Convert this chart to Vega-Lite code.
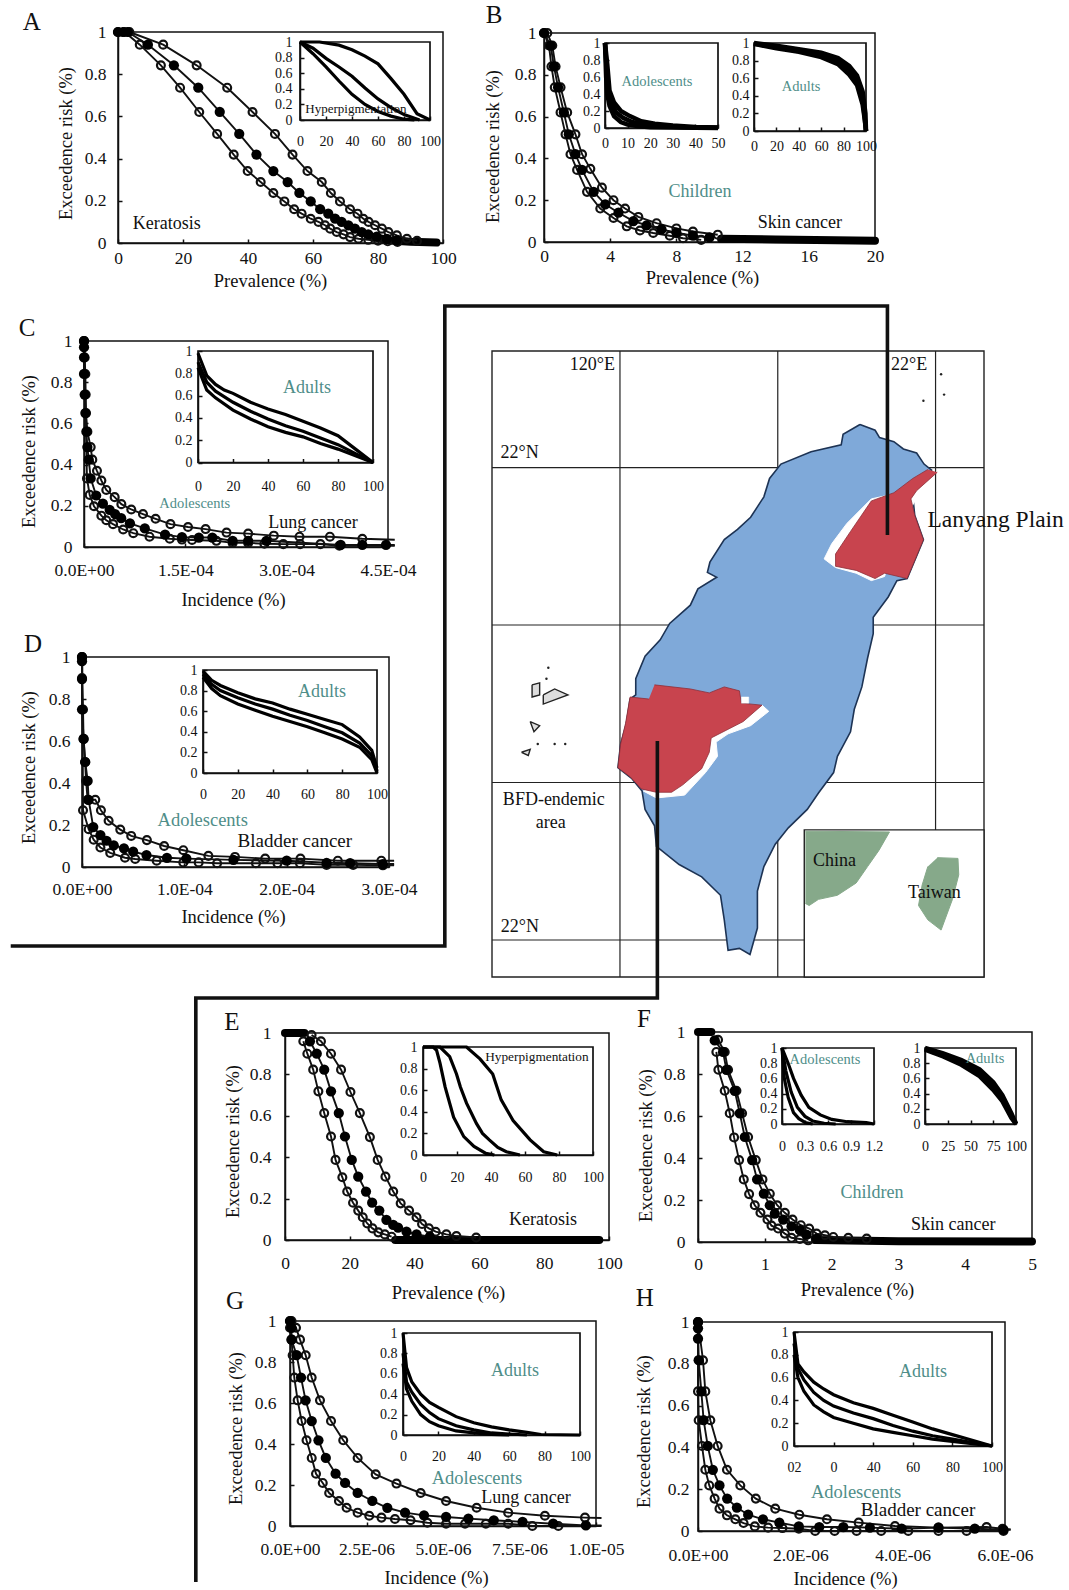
{"$schema":"https://vega.github.io/schema/vega-lite/v6.json","width":1069,"height":1590,"padding":0,"autosize":{"type":"none"},"background":"white",
"config":{"view":{"stroke":null},"axis":{"grid":false,"labelFlush":false,"labelFont":"Liberation Serif","titleFont":"Liberation Serif","labelFontSize":17.5,"titleFontSize":18.5,"titleFontWeight":"normal","titleBaseline":"middle","labelColor":"#111","titleColor":"#111","tickSize":-4,"tickColor":"#111","domainColor":"#111","domainWidth":1.5,"tickWidth":1.5,"labelOverlap":false,"labelPadding":10},"text":{"font":"Liberation Serif","fontSize":18,"baseline":"middle","align":"center","color":"#111"}},
"datasets":{
"A":[{"x":0,"y":1,"s":"l"},{"x":2,"y":1,"s":"l"},{"x":6.7,"y":0.94,"s":"l"},{"x":13.2,"y":0.842,"s":"l"},{"x":19.1,"y":0.736,"s":"l"},{"x":25,"y":0.621,"s":"l"},{"x":30.5,"y":0.517,"s":"l"},{"x":35.6,"y":0.419,"s":"l"},{"x":39.9,"y":0.341,"s":"l"},{"x":43.9,"y":0.289,"s":"l"},{"x":47.8,"y":0.237,"s":"l"},{"x":51.2,"y":0.197,"s":"l"},{"x":54.2,"y":0.16,"s":"l"},{"x":56.5,"y":0.139,"s":"l"},{"x":59.3,"y":0.115,"s":"l"},{"x":61.7,"y":0.1,"s":"l"},{"x":63.7,"y":0.084,"s":"l"},{"x":65.3,"y":0.068,"s":"l"},{"x":67.3,"y":0.052,"s":"l"},{"x":69.4,"y":0.041,"s":"l"},{"x":71.4,"y":0.028,"s":"l"},{"x":74,"y":0.02,"s":"l"},{"x":77,"y":0.015,"s":"l"},{"x":80,"y":0.011,"s":"l"},{"x":83,"y":0.008,"s":"l"},{"x":86,"y":0.005,"s":"l"},
{"x":0,"y":1,"s":"m"},{"x":1.5,"y":1,"s":"m"},{"x":3,"y":1,"s":"m"},{"x":9.2,"y":0.94,"s":"m"},{"x":17.2,"y":0.842,"s":"m"},{"x":24.7,"y":0.736,"s":"m"},{"x":31.3,"y":0.621,"s":"m"},{"x":37.3,"y":0.517,"s":"m"},{"x":42.6,"y":0.419,"s":"m"},{"x":47.8,"y":0.341,"s":"m"},{"x":52.2,"y":0.289,"s":"m"},{"x":55.8,"y":0.237,"s":"m"},{"x":59.3,"y":0.197,"s":"m"},{"x":62.2,"y":0.16,"s":"m"},{"x":64.7,"y":0.139,"s":"m"},{"x":66.8,"y":0.115,"s":"m"},{"x":68.8,"y":0.1,"s":"m"},{"x":70.9,"y":0.084,"s":"m"},{"x":72.9,"y":0.068,"s":"m"},{"x":75,"y":0.052,"s":"m"},{"x":77,"y":0.041,"s":"m"},{"x":79.6,"y":0.03,"s":"m"},{"x":82.7,"y":0.02,"s":"m"},{"x":85.7,"y":0.012,"s":"m"},
{"x":3.5,"y":1,"s":"h"},{"x":13.9,"y":0.94,"s":"h"},{"x":24.2,"y":0.842,"s":"h"},{"x":33.6,"y":0.736,"s":"h"},{"x":41.4,"y":0.621,"s":"h"},{"x":48.3,"y":0.517,"s":"h"},{"x":53.7,"y":0.419,"s":"h"},{"x":58.3,"y":0.341,"s":"h"},{"x":62.7,"y":0.289,"s":"h"},{"x":65.5,"y":0.237,"s":"h"},{"x":68.3,"y":0.197,"s":"h"},{"x":71.4,"y":0.16,"s":"h"},{"x":73.7,"y":0.139,"s":"h"},{"x":75.5,"y":0.115,"s":"h"},{"x":77.1,"y":0.1,"s":"h"},{"x":79.1,"y":0.084,"s":"h"},{"x":81.2,"y":0.068,"s":"h"},{"x":83.2,"y":0.052,"s":"h"},{"x":85.8,"y":0.036,"s":"h"},{"x":88.9,"y":0.02,"s":"h"},{"x":92,"y":0.01,"s":"h"},
{"x":78,"y":0.03,"s":"t"},{"x":84,"y":0.012,"s":"t"},{"x":90,"y":0.006,"s":"t"},{"x":98,"y":0.002,"s":"t"}],
"B":[{"x":0,"y":1,"s":"l"},{"x":0.3,"y":0.94,"s":"l"},{"x":0.45,"y":0.84,"s":"l"},{"x":0.65,"y":0.74,"s":"l"},{"x":1,"y":0.62,"s":"l"},{"x":1.3,"y":0.515,"s":"l"},{"x":1.6,"y":0.42,"s":"l"},{"x":2,"y":0.345,"s":"l"},{"x":2.6,"y":0.24,"s":"l"},{"x":3.4,"y":0.16,"s":"l"},{"x":4.2,"y":0.115,"s":"l"},{"x":5,"y":0.075,"s":"l"},{"x":5.8,"y":0.055,"s":"l"},{"x":6.6,"y":0.043,"s":"l"},{"x":7.6,"y":0.03,"s":"l"},{"x":8.4,"y":0.018,"s":"l"},{"x":9.5,"y":0.01,"s":"l"},
{"x":0,"y":1,"s":"m"},{"x":0.4,"y":0.94,"s":"m"},{"x":0.6,"y":0.84,"s":"m"},{"x":0.85,"y":0.74,"s":"m"},{"x":1.2,"y":0.62,"s":"m"},{"x":1.5,"y":0.515,"s":"m"},{"x":1.9,"y":0.42,"s":"m"},{"x":2.3,"y":0.345,"s":"m"},{"x":3,"y":0.24,"s":"m"},{"x":3.7,"y":0.18,"s":"m"},{"x":4.5,"y":0.14,"s":"m"},{"x":5.4,"y":0.1,"s":"m"},{"x":6.2,"y":0.08,"s":"m"},{"x":7.1,"y":0.06,"s":"m"},{"x":8,"y":0.045,"s":"m"},{"x":9,"y":0.03,"s":"m"},{"x":10,"y":0.022,"s":"m"},
{"x":0.2,"y":1,"s":"h"},{"x":0.5,"y":0.94,"s":"h"},{"x":0.7,"y":0.84,"s":"h"},{"x":1,"y":0.74,"s":"h"},{"x":1.4,"y":0.62,"s":"h"},{"x":1.9,"y":0.515,"s":"h"},{"x":2.3,"y":0.42,"s":"h"},{"x":2.8,"y":0.35,"s":"h"},{"x":3.5,"y":0.26,"s":"h"},{"x":4.2,"y":0.2,"s":"h"},{"x":4.9,"y":0.16,"s":"h"},{"x":5.7,"y":0.12,"s":"h"},{"x":6.8,"y":0.09,"s":"h"},{"x":8,"y":0.065,"s":"h"},{"x":9,"y":0.05,"s":"h"},{"x":10.5,"y":0.035,"s":"h"},
{"x":10.7,"y":0.015,"s":"t"},{"x":14,"y":0.012,"s":"t"},{"x":20,"y":0.006,"s":"t"}],
"C":[{"x":0,"y":1,"s":"h"},{"x":1e-6,"y":0.92,"s":"h"},{"x":2e-6,"y":0.84,"s":"h"},{"x":2.5e-6,"y":0.74,"s":"h"},{"x":3e-6,"y":0.65,"s":"h"},{"x":5e-6,"y":0.56,"s":"h"},{"x":9.9e-6,"y":0.485,"s":"h"},{"x":1.23e-5,"y":0.424,"s":"h"},{"x":1.92e-5,"y":0.37,"s":"h"},{"x":2.57e-5,"y":0.323,"s":"h"},{"x":3.3e-5,"y":0.277,"s":"h"},{"x":4.54e-5,"y":0.242,"s":"h"},{"x":5.53e-5,"y":0.208,"s":"h"},{"x":7e-5,"y":0.182,"s":"h"},{"x":8.73e-5,"y":0.16,"s":"h"},{"x":1.06e-4,"y":0.137,"s":"h"},{"x":1.28e-4,"y":0.111,"s":"h"},{"x":1.54e-4,"y":0.097,"s":"h"},{"x":1.8e-4,"y":0.087,"s":"h"},{"x":2.11e-4,"y":0.07,"s":"h"},{"x":2.43e-4,"y":0.065,"s":"h"},{"x":2.81e-4,"y":0.055,"s":"h"},{"x":3.19e-4,"y":0.05,"s":"h"},{"x":3.64e-4,"y":0.05,"s":"h"},{"x":4.12e-4,"y":0.04,"s":"h"},{"x":4.6e-4,"y":0.035,"s":"h","n":1},
{"x":0,"y":1,"s":"m"},{"x":0,"y":0.97,"s":"m"},{"x":0,"y":0.92,"s":"m"},{"x":0,"y":0.84,"s":"m"},{"x":1e-6,"y":0.74,"s":"m"},{"x":2e-6,"y":0.65,"s":"m"},{"x":3.5e-6,"y":0.56,"s":"m"},{"x":5e-6,"y":0.485,"s":"m"},{"x":7e-6,"y":0.424,"s":"m"},{"x":9.9e-6,"y":0.333,"s":"m"},{"x":1.8e-5,"y":0.25,"s":"m"},{"x":2.8e-5,"y":0.21,"s":"m"},{"x":3.8e-5,"y":0.18,"s":"m"},{"x":4.6e-5,"y":0.16,"s":"m"},{"x":5.5e-5,"y":0.14,"s":"m"},{"x":6.8e-5,"y":0.115,"s":"m"},{"x":9e-5,"y":0.09,"s":"m"},{"x":1.2e-4,"y":0.06,"s":"m"},{"x":1.45e-4,"y":0.048,"s":"m"},{"x":1.7e-4,"y":0.046,"s":"m"},{"x":1.9e-4,"y":0.046,"s":"m"},{"x":2.2e-4,"y":0.03,"s":"m"},{"x":2.43e-4,"y":0.03,"s":"m"},{"x":2.7e-4,"y":0.03,"s":"m"},{"x":3.8e-4,"y":0.01,"s":"m"},{"x":4.12e-4,"y":0.01,"s":"m"},{"x":4.47e-4,"y":0.01,"s":"m"},{"x":4.6e-4,"y":0.01,"s":"m","n":1},
{"x":0,"y":1,"s":"l"},{"x":4.4e-6,"y":0.333,"s":"l"},{"x":8.4e-6,"y":0.253,"s":"l"},{"x":1.48e-5,"y":0.198,"s":"l"},{"x":2.57e-5,"y":0.152,"s":"l"},{"x":3.3e-5,"y":0.13,"s":"l"},{"x":4.3e-5,"y":0.111,"s":"l"},{"x":5.8e-5,"y":0.085,"s":"l"},{"x":7.3e-5,"y":0.067,"s":"l"},{"x":9.7e-5,"y":0.05,"s":"l"},{"x":1.27e-4,"y":0.04,"s":"l"},{"x":1.45e-4,"y":0.036,"s":"l"},{"x":1.6e-4,"y":0.034,"s":"l"},{"x":1.96e-4,"y":0.03,"s":"l"},{"x":2.2e-4,"y":0.02,"s":"l"},{"x":2.43e-4,"y":0.02,"s":"l"},{"x":2.67e-4,"y":0.016,"s":"l"},{"x":2.95e-4,"y":0.014,"s":"l"},{"x":3.2e-4,"y":0.014,"s":"l"},{"x":3.5e-4,"y":0.014,"s":"l"},{"x":3.78e-4,"y":0.006,"s":"l"},{"x":4.6e-4,"y":0.006,"s":"l","n":1}],
"D":[{"x":0,"y":1,"s":"h"},{"x":0,"y":0.9,"s":"h"},{"x":1e-6,"y":0.75,"s":"h"},{"x":1.5e-6,"y":0.61,"s":"h"},{"x":3e-6,"y":0.5,"s":"h"},{"x":4e-6,"y":0.41,"s":"h"},{"x":5.5e-6,"y":0.32,"s":"h"},{"x":1.3e-5,"y":0.32,"s":"h"},{"x":1.85e-5,"y":0.27,"s":"h"},{"x":2.6e-5,"y":0.22,"s":"h"},{"x":3.74e-5,"y":0.178,"s":"h"},{"x":4.81e-5,"y":0.148,"s":"h"},{"x":6.34e-5,"y":0.128,"s":"h"},{"x":8.03e-5,"y":0.1,"s":"h"},{"x":9.9e-5,"y":0.08,"s":"h"},{"x":1.235e-4,"y":0.053,"s":"h"},{"x":1.495e-4,"y":0.048,"s":"h"},{"x":1.79e-4,"y":0.04,"s":"h"},{"x":2.135e-4,"y":0.04,"s":"h"},{"x":2.5e-4,"y":0.03,"s":"h"},{"x":2.925e-4,"y":0.03,"s":"h"},{"x":3.05e-4,"y":0.03,"s":"h","n":1},
{"x":0,"y":1,"s":"m"},{"x":0,"y":0.98,"s":"m"},{"x":0,"y":0.895,"s":"m"},{"x":0,"y":0.75,"s":"m"},{"x":1.6e-6,"y":0.61,"s":"m"},{"x":3.2e-6,"y":0.5,"s":"m"},{"x":5.5e-6,"y":0.41,"s":"m"},{"x":6.5e-6,"y":0.32,"s":"m"},{"x":1.1e-5,"y":0.19,"s":"m"},{"x":1.8e-5,"y":0.152,"s":"m"},{"x":2.4e-5,"y":0.125,"s":"m"},{"x":3.1e-5,"y":0.103,"s":"m"},{"x":4.1e-5,"y":0.089,"s":"m"},{"x":5e-5,"y":0.073,"s":"m"},{"x":6.3e-5,"y":0.057,"s":"m"},{"x":8.3e-5,"y":0.044,"s":"m"},{"x":1.02e-4,"y":0.04,"s":"m"},{"x":1.48e-4,"y":0.034,"s":"m"},{"x":2e-4,"y":0.03,"s":"m"},{"x":2.39e-4,"y":0.02,"s":"m"},{"x":2.62e-4,"y":0.018,"s":"m"},{"x":2.94e-4,"y":0.014,"s":"m"},{"x":3.05e-4,"y":0.014,"s":"m","n":1},
{"x":0,"y":1,"s":"l"},{"x":1e-6,"y":0.27,"s":"l"},{"x":6.5e-6,"y":0.18,"s":"l"},{"x":1.14e-5,"y":0.13,"s":"l"},{"x":1.8e-5,"y":0.093,"s":"l"},{"x":2.76e-5,"y":0.067,"s":"l"},{"x":4.2e-5,"y":0.044,"s":"l"},{"x":5.2e-5,"y":0.038,"s":"l"},{"x":7.3e-5,"y":0.03,"s":"l"},{"x":9.9e-5,"y":0.022,"s":"l"},{"x":1.14e-4,"y":0.022,"s":"l"},{"x":1.32e-4,"y":0.018,"s":"l"},{"x":1.7e-4,"y":0.018,"s":"l"},{"x":1.91e-4,"y":0.018,"s":"l"},{"x":2.13e-4,"y":0.018,"s":"l"},{"x":2.39e-4,"y":0.01,"s":"l"},{"x":2.65e-4,"y":0.01,"s":"l"},{"x":2.94e-4,"y":0.008,"s":"l"},{"x":3.05e-4,"y":0.008,"s":"l","n":1}],
"E":[{"x":5.65,"y":0.96,"s":"l"},{"x":6.9,"y":0.9,"s":"l"},{"x":8.7,"y":0.823,"s":"l"},{"x":10.3,"y":0.718,"s":"l"},{"x":12.1,"y":0.613,"s":"l"},{"x":14.2,"y":0.5,"s":"l"},{"x":15.6,"y":0.387,"s":"l"},{"x":17.7,"y":0.303,"s":"l"},{"x":19.2,"y":0.234,"s":"l"},{"x":21,"y":0.18,"s":"l"},{"x":22.6,"y":0.142,"s":"l"},{"x":24,"y":0.11,"s":"l"},{"x":25.4,"y":0.08,"s":"l"},{"x":27,"y":0.056,"s":"l"},{"x":28.8,"y":0.037,"s":"l"},{"x":30.8,"y":0.027,"s":"l"},{"x":32.9,"y":0.016,"s":"l"},
{"x":7.7,"y":0.96,"s":"m"},{"x":9.8,"y":0.9,"s":"m"},{"x":12.1,"y":0.823,"s":"m"},{"x":14.2,"y":0.718,"s":"m"},{"x":16.6,"y":0.613,"s":"m"},{"x":18.5,"y":0.5,"s":"m"},{"x":20.6,"y":0.387,"s":"m"},{"x":22.6,"y":0.306,"s":"m"},{"x":25,"y":0.234,"s":"m"},{"x":26.9,"y":0.18,"s":"m"},{"x":29.1,"y":0.142,"s":"m"},{"x":31.3,"y":0.097,"s":"m"},{"x":33.4,"y":0.073,"s":"m"},{"x":34.9,"y":0.06,"s":"m"},{"x":37.5,"y":0.04,"s":"m"},{"x":40.6,"y":0.027,"s":"m"},{"x":44.7,"y":0.016,"s":"m"},
{"x":8.2,"y":0.99,"s":"h"},{"x":11.1,"y":0.96,"s":"h"},{"x":14.2,"y":0.9,"s":"h"},{"x":17.3,"y":0.823,"s":"h"},{"x":20.2,"y":0.715,"s":"h"},{"x":23.1,"y":0.613,"s":"h"},{"x":26.2,"y":0.497,"s":"h"},{"x":28.6,"y":0.387,"s":"h"},{"x":31,"y":0.306,"s":"h"},{"x":33.4,"y":0.234,"s":"h"},{"x":35.7,"y":0.177,"s":"h"},{"x":38.3,"y":0.142,"s":"h"},{"x":40.6,"y":0.11,"s":"h"},{"x":42.3,"y":0.077,"s":"h"},{"x":44.4,"y":0.056,"s":"h"},{"x":46.5,"y":0.04,"s":"h"},{"x":49.8,"y":0.027,"s":"h"},{"x":52.9,"y":0.019,"s":"h"},{"x":59,"y":0.012,"s":"h"},
{"x":34,"y":0,"s":"t"},{"x":97,"y":0,"s":"t"},{"x":0,"y":1,"s":"u"},{"x":6,"y":1,"s":"u"}],
"F":[{"x":0.275,"y":0.905,"s":"l"},{"x":0.305,"y":0.82,"s":"l"},{"x":0.4,"y":0.72,"s":"l"},{"x":0.475,"y":0.613,"s":"l"},{"x":0.54,"y":0.498,"s":"l"},{"x":0.615,"y":0.39,"s":"l"},{"x":0.685,"y":0.298,"s":"l"},{"x":0.765,"y":0.228,"s":"l"},{"x":0.85,"y":0.175,"s":"l"},{"x":0.935,"y":0.139,"s":"l"},{"x":1.04,"y":0.107,"s":"l"},{"x":1.1,"y":0.078,"s":"l"},{"x":1.2,"y":0.064,"s":"l"},{"x":1.3,"y":0.04,"s":"l"},{"x":1.4,"y":0.02,"s":"l"},{"x":1.525,"y":0.014,"s":"l"},{"x":1.65,"y":0.008,"s":"l"},
{"x":0.25,"y":0.96,"s":"m"},{"x":0.375,"y":0.905,"s":"m"},{"x":0.425,"y":0.82,"s":"m"},{"x":0.55,"y":0.72,"s":"m"},{"x":0.625,"y":0.613,"s":"m"},{"x":0.7,"y":0.5,"s":"m"},{"x":0.81,"y":0.39,"s":"m"},{"x":0.885,"y":0.298,"s":"m"},{"x":0.985,"y":0.23,"s":"m"},{"x":1.075,"y":0.175,"s":"m"},{"x":1.15,"y":0.135,"s":"m"},{"x":1.275,"y":0.107,"s":"m"},{"x":1.4,"y":0.075,"s":"m"},{"x":1.525,"y":0.056,"s":"m"},{"x":1.625,"y":0.035,"s":"m"},{"x":1.775,"y":0.016,"s":"m"},
{"x":0.3,"y":0.963,"s":"h"},{"x":0.4,"y":0.905,"s":"h"},{"x":0.45,"y":0.82,"s":"h"},{"x":0.575,"y":0.72,"s":"h"},{"x":0.66,"y":0.613,"s":"h"},{"x":0.75,"y":0.5,"s":"h"},{"x":0.865,"y":0.39,"s":"h"},{"x":0.965,"y":0.298,"s":"h"},{"x":1.075,"y":0.23,"s":"h"},{"x":1.185,"y":0.175,"s":"h"},{"x":1.3,"y":0.139,"s":"h"},{"x":1.415,"y":0.107,"s":"h"},{"x":1.54,"y":0.08,"s":"h"},{"x":1.665,"y":0.064,"s":"h"},{"x":1.775,"y":0.04,"s":"h"},{"x":1.9,"y":0.032,"s":"h"},{"x":2.025,"y":0.024,"s":"h"},{"x":2.25,"y":0.02,"s":"h"},{"x":2.525,"y":0.016,"s":"h"},
{"x":1.75,"y":0.01,"s":"t"},{"x":3,"y":0.004,"s":"t"},{"x":5,"y":0.002,"s":"t"},{"x":0,"y":1,"s":"u"},{"x":0.2,"y":1,"s":"u"}],
"G":[{"x":0.5e-7,"y":1,"s":"h"},{"x":1.96e-7,"y":0.967,"s":"h"},{"x":3.27e-7,"y":0.909,"s":"h"},{"x":5.12e-7,"y":0.833,"s":"h"},{"x":7.08e-7,"y":0.724,"s":"h"},{"x":9.8e-7,"y":0.613,"s":"h"},{"x":1.34e-6,"y":0.512,"s":"h"},{"x":1.74e-6,"y":0.418,"s":"h"},{"x":2.21e-6,"y":0.332,"s":"h"},{"x":2.8e-6,"y":0.252,"s":"h"},{"x":3.48e-6,"y":0.207,"s":"h"},{"x":4.27e-6,"y":0.161,"s":"h"},{"x":5.1e-6,"y":0.122,"s":"h"},{"x":6.1e-6,"y":0.089,"s":"h"},{"x":7.13e-6,"y":0.065,"s":"h"},{"x":8.33e-6,"y":0.05,"s":"h"},{"x":9.64e-6,"y":0.041,"s":"h"},{"x":1.018e-5,"y":0.039,"s":"h","n":1},
{"x":0,"y":1,"s":"m"},{"x":0.5e-7,"y":0.967,"s":"m"},{"x":0.5e-7,"y":0.909,"s":"m"},{"x":2.18e-7,"y":0.833,"s":"m"},{"x":3.6e-7,"y":0.724,"s":"m"},{"x":5.1e-7,"y":0.613,"s":"m"},{"x":7.1e-7,"y":0.512,"s":"m"},{"x":9.3e-7,"y":0.418,"s":"m"},{"x":1.17e-6,"y":0.332,"s":"m"},{"x":1.49e-6,"y":0.255,"s":"m"},{"x":1.8e-6,"y":0.21,"s":"m"},{"x":2.21e-6,"y":0.161,"s":"m"},{"x":2.69e-6,"y":0.122,"s":"m"},{"x":3.18e-6,"y":0.089,"s":"m"},{"x":3.76e-6,"y":0.065,"s":"m"},{"x":4.38e-6,"y":0.052,"s":"m"},{"x":5.1e-6,"y":0.044,"s":"m"},{"x":5.83e-6,"y":0.036,"s":"m"},{"x":6.66e-6,"y":0.028,"s":"m"},{"x":7.6e-6,"y":0.02,"s":"m"},{"x":8.6e-6,"y":0.011,"s":"m"},{"x":9.67e-6,"y":0.003,"s":"m"},{"x":1.018e-5,"y":0.003,"s":"m","n":1},
{"x":0,"y":1,"s":"l"},{"x":0,"y":0.967,"s":"l"},{"x":0.5e-7,"y":0.909,"s":"l"},{"x":0.87e-7,"y":0.833,"s":"l"},{"x":1.4e-7,"y":0.724,"s":"l"},{"x":2.5e-7,"y":0.613,"s":"l"},{"x":3.8e-7,"y":0.512,"s":"l"},{"x":5.4e-7,"y":0.418,"s":"l"},{"x":7.1e-7,"y":0.332,"s":"l"},{"x":8.5e-7,"y":0.255,"s":"l"},{"x":1.07e-6,"y":0.21,"s":"l"},{"x":1.28e-6,"y":0.161,"s":"l"},{"x":1.6e-6,"y":0.122,"s":"l"},{"x":1.85e-6,"y":0.089,"s":"l"},{"x":2.21e-6,"y":0.065,"s":"l"},{"x":2.59e-6,"y":0.05,"s":"l"},{"x":2.99e-6,"y":0.041,"s":"l"},{"x":3.43e-6,"y":0.034,"s":"l"},{"x":3.94e-6,"y":0.028,"s":"l"},{"x":4.49e-6,"y":0.016,"s":"l"},{"x":5.1e-6,"y":0.011,"s":"l"},{"x":5.72e-6,"y":0.011,"s":"l"},{"x":6.4e-6,"y":0.011,"s":"l"},{"x":7.13e-6,"y":0.011,"s":"l"},{"x":7.92e-6,"y":0,"s":"l"},{"x":8.77e-6,"y":0,"s":"l"},{"x":1.018e-5,"y":0,"s":"l","n":1}],
"H":[{"x":0,"y":1,"s":"h"},{"x":0.98e-7,"y":0.817,"s":"h"},{"x":1.43e-7,"y":0.668,"s":"h"},{"x":2.41e-7,"y":0.53,"s":"h"},{"x":3.84e-7,"y":0.407,"s":"h"},{"x":5.66e-7,"y":0.293,"s":"h"},{"x":8.27e-7,"y":0.218,"s":"h"},{"x":1.13e-6,"y":0.155,"s":"h"},{"x":1.51e-6,"y":0.107,"s":"h"},{"x":1.98e-6,"y":0.078,"s":"h"},{"x":2.52e-6,"y":0.056,"s":"h"},{"x":3.14e-6,"y":0.04,"s":"h"},{"x":3.85e-6,"y":0.024,"s":"h"},{"x":4.7e-6,"y":0.016,"s":"h"},{"x":5.64e-6,"y":0.019,"s":"h"},{"x":5.95e-6,"y":0.011,"s":"h"},{"x":6.11e-6,"y":0.008,"s":"h","n":1},
{"x":0,"y":1,"s":"m"},{"x":0,"y":0.97,"s":"m"},{"x":0,"y":0.92,"s":"m"},{"x":0.13e-7,"y":0.817,"s":"m"},{"x":0.65e-7,"y":0.668,"s":"m"},{"x":1.1e-7,"y":0.53,"s":"m"},{"x":1.9e-7,"y":0.407,"s":"m"},{"x":2.9e-7,"y":0.293,"s":"m"},{"x":4.2e-7,"y":0.218,"s":"m"},{"x":5.7e-7,"y":0.155,"s":"m"},{"x":7.6e-7,"y":0.112,"s":"m"},{"x":9.8e-7,"y":0.078,"s":"m"},{"x":1.27e-6,"y":0.056,"s":"m"},{"x":1.59e-6,"y":0.04,"s":"m"},{"x":1.97e-6,"y":0.022,"s":"m"},{"x":2.37e-6,"y":0.019,"s":"m"},{"x":2.84e-6,"y":0.019,"s":"m"},{"x":3.36e-6,"y":0.016,"s":"m"},{"x":3.98e-6,"y":0.011,"s":"m"},{"x":4.7e-6,"y":0.016,"s":"m"},{"x":5.41e-6,"y":0.011,"s":"m"},{"x":5.97e-6,"y":0.006,"s":"m"},{"x":6.11e-6,"y":0.006,"s":"m","n":1},
{"x":0,"y":1,"s":"l"},{"x":0,"y":0.668,"s":"l"},{"x":0.13e-7,"y":0.53,"s":"l"},{"x":0.78e-7,"y":0.407,"s":"l"},{"x":1.43e-7,"y":0.293,"s":"l"},{"x":2.2e-7,"y":0.218,"s":"l"},{"x":3.25e-7,"y":0.155,"s":"l"},{"x":4.2e-7,"y":0.107,"s":"l"},{"x":5.66e-7,"y":0.075,"s":"l"},{"x":7.3e-7,"y":0.056,"s":"l"},{"x":8.9e-7,"y":0.038,"s":"l"},{"x":1.11e-6,"y":0.022,"s":"l"},{"x":1.37e-6,"y":0.016,"s":"l"},{"x":1.65e-6,"y":0.014,"s":"l"},{"x":1.97e-6,"y":0.011,"s":"l"},{"x":2.29e-6,"y":0,"s":"l"},{"x":2.67e-6,"y":0,"s":"l"},{"x":3.1e-6,"y":0,"s":"l"},{"x":3.58e-6,"y":0,"s":"l"},{"x":4.11e-6,"y":0,"s":"l"},{"x":4.7e-6,"y":0,"s":"l"},{"x":5.25e-6,"y":0,"s":"l"},{"x":5.97e-6,"y":0,"s":"l"}],
"ia":[{"x":0,"y":1,"s":"l"},{"x":10,"y":0.85,"s":"l"},{"x":20,"y":0.68,"s":"l"},{"x":30,"y":0.5,"s":"l"},{"x":40,"y":0.33,"s":"l"},{"x":50,"y":0.2,"s":"l"},{"x":60,"y":0.11,"s":"l"},{"x":70,"y":0.05,"s":"l"},{"x":80,"y":0.01,"s":"l"},{"x":88,"y":0,"s":"l"},{"x":0,"y":1,"s":"m"},{"x":10,"y":0.92,"s":"m"},{"x":20,"y":0.79,"s":"m"},{"x":30,"y":0.68,"s":"m"},{"x":40,"y":0.56,"s":"m"},{"x":50,"y":0.41,"s":"m"},{"x":60,"y":0.27,"s":"m"},{"x":70,"y":0.16,"s":"m"},{"x":80,"y":0.07,"s":"m"},{"x":92,"y":0,"s":"m"},{"x":0,"y":1,"s":"h"},{"x":15,"y":1,"s":"h"},{"x":30,"y":0.96,"s":"h"},{"x":40,"y":0.9,"s":"h"},{"x":50,"y":0.82,"s":"h"},{"x":60,"y":0.72,"s":"h"},{"x":70,"y":0.53,"s":"h"},{"x":80,"y":0.33,"s":"h"},{"x":90,"y":0.08,"s":"h"},{"x":100,"y":0,"s":"h"}],
"ib1":[{"x":0,"y":1,"s":"l"},{"x":0.5,"y":0.6,"s":"l"},{"x":1,"y":0.4,"s":"l"},{"x":2,"y":0.26,"s":"l"},{"x":4,"y":0.14,"s":"l"},{"x":7,"y":0.07,"s":"l"},{"x":10,"y":0.04,"s":"l"},{"x":15,"y":0.02,"s":"l"},{"x":20,"y":0.01,"s":"l"},{"x":30,"y":0.005,"s":"l"},{"x":50,"y":0,"s":"l"},{"x":0,"y":1,"s":"m"},{"x":0.7,"y":0.7,"s":"m"},{"x":1.5,"y":0.42,"s":"m"},{"x":3,"y":0.28,"s":"m"},{"x":5,"y":0.18,"s":"m"},{"x":8,"y":0.12,"s":"m"},{"x":12,"y":0.07,"s":"m"},{"x":18,"y":0.04,"s":"m"},{"x":25,"y":0.02,"s":"m"},{"x":35,"y":0.01,"s":"m"},{"x":50,"y":0.003,"s":"m"},{"x":0,"y":1,"s":"h"},{"x":1,"y":0.75,"s":"h"},{"x":2,"y":0.44,"s":"h"},{"x":4,"y":0.3,"s":"h"},{"x":7,"y":0.2,"s":"h"},{"x":11,"y":0.14,"s":"h"},{"x":16,"y":0.08,"s":"h"},{"x":22,"y":0.05,"s":"h"},{"x":30,"y":0.03,"s":"h"},{"x":40,"y":0.012,"s":"h"},{"x":50,"y":0.005,"s":"h"}],
"ib2":[{"x":0,"y":0.99,"s":"l"},{"x":20,"y":0.94,"s":"l"},{"x":40,"y":0.9,"s":"l"},{"x":60,"y":0.84,"s":"l"},{"x":75,"y":0.76,"s":"l"},{"x":85,"y":0.64,"s":"l"},{"x":92,"y":0.52,"s":"l"},{"x":97,"y":0.3,"s":"l"},{"x":99,"y":0.12,"s":"l"},{"x":100,"y":0,"s":"l"},{"x":0,"y":0.99,"s":"m"},{"x":20,"y":0.96,"s":"m"},{"x":40,"y":0.92,"s":"m"},{"x":60,"y":0.87,"s":"m"},{"x":75,"y":0.8,"s":"m"},{"x":85,"y":0.7,"s":"m"},{"x":92,"y":0.58,"s":"m"},{"x":97,"y":0.38,"s":"m"},{"x":100,"y":0,"s":"m"},{"x":0,"y":1,"s":"h"},{"x":20,"y":0.97,"s":"h"},{"x":40,"y":0.93,"s":"h"},{"x":60,"y":0.89,"s":"h"},{"x":75,"y":0.83,"s":"h"},{"x":85,"y":0.74,"s":"h"},{"x":92,"y":0.63,"s":"h"},{"x":97,"y":0.45,"s":"h"},{"x":99.5,"y":0.2,"s":"h"},{"x":100,"y":0,"s":"h"}],
"ic":[{"x":0,"y":0.85,"s":"l"},{"x":5,"y":0.65,"s":"l"},{"x":10,"y":0.58,"s":"l"},{"x":20,"y":0.47,"s":"l"},{"x":30,"y":0.39,"s":"l"},{"x":40,"y":0.32,"s":"l"},{"x":50,"y":0.27,"s":"l"},{"x":60,"y":0.23,"s":"l"},{"x":70,"y":0.17,"s":"l"},{"x":80,"y":0.12,"s":"l"},{"x":90,"y":0.06,"s":"l"},{"x":100,"y":0,"s":"l"},{"x":0,"y":0.9,"s":"m"},{"x":5,"y":0.72,"s":"m"},{"x":10,"y":0.64,"s":"m"},{"x":20,"y":0.54,"s":"m"},{"x":30,"y":0.46,"s":"m"},{"x":40,"y":0.39,"s":"m"},{"x":50,"y":0.33,"s":"m"},{"x":60,"y":0.28,"s":"m"},{"x":70,"y":0.22,"s":"m"},{"x":80,"y":0.16,"s":"m"},{"x":90,"y":0.08,"s":"m"},{"x":100,"y":0,"s":"m"},{"x":0,"y":0.98,"s":"h"},{"x":5,"y":0.78,"s":"h"},{"x":10,"y":0.7,"s":"h"},{"x":15,"y":0.65,"s":"h"},{"x":20,"y":0.62,"s":"h"},{"x":30,"y":0.54,"s":"h"},{"x":40,"y":0.48,"s":"h"},{"x":50,"y":0.43,"s":"h"},{"x":60,"y":0.37,"s":"h"},{"x":70,"y":0.31,"s":"h"},{"x":80,"y":0.24,"s":"h"},{"x":90,"y":0.12,"s":"h"},{"x":100,"y":0,"s":"h"}],
"id":[{"x":0,"y":0.93,"s":"l"},{"x":5,"y":0.82,"s":"l"},{"x":10,"y":0.75,"s":"l"},{"x":20,"y":0.67,"s":"l"},{"x":30,"y":0.61,"s":"l"},{"x":40,"y":0.55,"s":"l"},{"x":50,"y":0.5,"s":"l"},{"x":60,"y":0.45,"s":"l"},{"x":70,"y":0.39,"s":"l"},{"x":80,"y":0.33,"s":"l"},{"x":90,"y":0.25,"s":"l"},{"x":97,"y":0.13,"s":"l"},{"x":100,"y":0,"s":"l"},{"x":0,"y":0.96,"s":"m"},{"x":5,"y":0.86,"s":"m"},{"x":10,"y":0.8,"s":"m"},{"x":20,"y":0.73,"s":"m"},{"x":30,"y":0.67,"s":"m"},{"x":40,"y":0.62,"s":"m"},{"x":50,"y":0.56,"s":"m"},{"x":60,"y":0.51,"s":"m"},{"x":70,"y":0.45,"s":"m"},{"x":80,"y":0.39,"s":"m"},{"x":90,"y":0.29,"s":"m"},{"x":97,"y":0.17,"s":"m"},{"x":100,"y":0.02,"s":"m"},{"x":0,"y":0.99,"s":"h"},{"x":5,"y":0.9,"s":"h"},{"x":10,"y":0.85,"s":"h"},{"x":20,"y":0.78,"s":"h"},{"x":30,"y":0.72,"s":"h"},{"x":40,"y":0.68,"s":"h"},{"x":50,"y":0.62,"s":"h"},{"x":60,"y":0.57,"s":"h"},{"x":70,"y":0.52,"s":"h"},{"x":80,"y":0.47,"s":"h"},{"x":90,"y":0.35,"s":"h"},{"x":97,"y":0.22,"s":"h"},{"x":100,"y":0.05,"s":"h"}],
"ie":[{"x":0,"y":1,"s":"l"},{"x":6,"y":1,"s":"l"},{"x":8,"y":0.97,"s":"l"},{"x":10,"y":0.85,"s":"l"},{"x":13,"y":0.63,"s":"l"},{"x":18,"y":0.35,"s":"l"},{"x":24,"y":0.17,"s":"l"},{"x":30,"y":0.08,"s":"l"},{"x":37,"y":0.015,"s":"l"},{"x":42,"y":0,"s":"l"},{"x":0,"y":1,"s":"m"},{"x":10,"y":1,"s":"m"},{"x":15.7,"y":0.91,"s":"m"},{"x":19.7,"y":0.75,"s":"m"},{"x":22,"y":0.63,"s":"m"},{"x":25.6,"y":0.48,"s":"m"},{"x":31.5,"y":0.29,"s":"m"},{"x":35,"y":0.2,"s":"m"},{"x":39,"y":0.14,"s":"m"},{"x":44,"y":0.07,"s":"m"},{"x":49,"y":0.03,"s":"m"},{"x":57,"y":0,"s":"m"},{"x":0,"y":1,"s":"h"},{"x":25.6,"y":1,"s":"h"},{"x":33.5,"y":0.89,"s":"h"},{"x":41,"y":0.75,"s":"h"},{"x":46,"y":0.51,"s":"h"},{"x":53,"y":0.32,"s":"h"},{"x":63,"y":0.14,"s":"h"},{"x":71,"y":0.03,"s":"h"},{"x":79,"y":0,"s":"h"}],
"if1":[{"x":0,"y":1,"s":"l"},{"x":0.03,"y":0.6,"s":"l"},{"x":0.08,"y":0.35,"s":"l"},{"x":0.15,"y":0.15,"s":"l"},{"x":0.22,"y":0.07,"s":"l"},{"x":0.3,"y":0.02,"s":"l"},{"x":0.4,"y":0,"s":"l"},{"x":0,"y":1,"s":"m"},{"x":0.05,"y":0.7,"s":"m"},{"x":0.12,"y":0.42,"s":"m"},{"x":0.2,"y":0.22,"s":"m"},{"x":0.3,"y":0.1,"s":"m"},{"x":0.4,"y":0.04,"s":"m"},{"x":0.55,"y":0.01,"s":"m"},{"x":0.7,"y":0,"s":"m"},{"x":0,"y":1,"s":"h"},{"x":0.08,"y":0.8,"s":"h"},{"x":0.15,"y":0.6,"s":"h"},{"x":0.25,"y":0.38,"s":"h"},{"x":0.35,"y":0.22,"s":"h"},{"x":0.5,"y":0.12,"s":"h"},{"x":0.65,"y":0.06,"s":"h"},{"x":0.85,"y":0.03,"s":"h"},{"x":1.1,"y":0.02,"s":"h"},{"x":1.2,"y":0,"s":"h"}],
"if2":[{"x":0,"y":0.98,"s":"l"},{"x":20,"y":0.89,"s":"l"},{"x":40,"y":0.78,"s":"l"},{"x":60,"y":0.63,"s":"l"},{"x":75,"y":0.45,"s":"l"},{"x":85,"y":0.3,"s":"l"},{"x":95,"y":0.08,"s":"l"},{"x":100,"y":0,"s":"l"},{"x":0,"y":0.99,"s":"m"},{"x":20,"y":0.91,"s":"m"},{"x":40,"y":0.81,"s":"m"},{"x":60,"y":0.67,"s":"m"},{"x":75,"y":0.5,"s":"m"},{"x":85,"y":0.33,"s":"m"},{"x":95,"y":0.1,"s":"m"},{"x":100,"y":0,"s":"m"},{"x":0,"y":1,"s":"h"},{"x":20,"y":0.93,"s":"h"},{"x":40,"y":0.84,"s":"h"},{"x":60,"y":0.72,"s":"h"},{"x":75,"y":0.55,"s":"h"},{"x":85,"y":0.38,"s":"h"},{"x":95,"y":0.14,"s":"h"},{"x":100,"y":0,"s":"h"}],
"ig":[{"x":0,"y":0.7,"s":"l"},{"x":2,"y":0.45,"s":"l"},{"x":5,"y":0.33,"s":"l"},{"x":10,"y":0.2,"s":"l"},{"x":15,"y":0.13,"s":"l"},{"x":20,"y":0.09,"s":"l"},{"x":30,"y":0.04,"s":"l"},{"x":40,"y":0.02,"s":"l"},{"x":50,"y":0.005,"s":"l"},{"x":60,"y":0,"s":"l"},{"x":0,"y":0.8,"s":"m"},{"x":2,"y":0.52,"s":"m"},{"x":5,"y":0.42,"s":"m"},{"x":10,"y":0.3,"s":"m"},{"x":15,"y":0.22,"s":"m"},{"x":20,"y":0.16,"s":"m"},{"x":30,"y":0.09,"s":"m"},{"x":40,"y":0.05,"s":"m"},{"x":50,"y":0.02,"s":"m"},{"x":60,"y":0.01,"s":"m"},{"x":70,"y":0,"s":"m"},{"x":0,"y":1,"s":"h"},{"x":2,"y":0.66,"s":"h"},{"x":5,"y":0.52,"s":"h"},{"x":10,"y":0.4,"s":"h"},{"x":15,"y":0.32,"s":"h"},{"x":20,"y":0.27,"s":"h"},{"x":30,"y":0.18,"s":"h"},{"x":40,"y":0.12,"s":"h"},{"x":50,"y":0.08,"s":"h"},{"x":60,"y":0.05,"s":"h"},{"x":70,"y":0.025,"s":"h"},{"x":78,"y":0.005,"s":"h"},{"x":100,"y":0,"s":"h"}],
"ih":[{"x":0,"y":0.8,"s":"l"},{"x":2,"y":0.6,"s":"l"},{"x":5,"y":0.48,"s":"l"},{"x":10,"y":0.36,"s":"l"},{"x":15,"y":0.3,"s":"l"},{"x":20,"y":0.25,"s":"l"},{"x":30,"y":0.2,"s":"l"},{"x":40,"y":0.15,"s":"l"},{"x":50,"y":0.12,"s":"l"},{"x":60,"y":0.09,"s":"l"},{"x":70,"y":0.06,"s":"l"},{"x":80,"y":0.04,"s":"l"},{"x":90,"y":0.02,"s":"l"},{"x":100,"y":0,"s":"l"},{"x":0,"y":0.9,"s":"m"},{"x":2,"y":0.68,"s":"m"},{"x":5,"y":0.58,"s":"m"},{"x":10,"y":0.47,"s":"m"},{"x":15,"y":0.4,"s":"m"},{"x":20,"y":0.35,"s":"m"},{"x":30,"y":0.29,"s":"m"},{"x":40,"y":0.24,"s":"m"},{"x":50,"y":0.18,"s":"m"},{"x":60,"y":0.13,"s":"m"},{"x":70,"y":0.09,"s":"m"},{"x":80,"y":0.06,"s":"m"},{"x":90,"y":0.03,"s":"m"},{"x":100,"y":0,"s":"m"},{"x":0,"y":1,"s":"h"},{"x":2,"y":0.72,"s":"h"},{"x":5,"y":0.65,"s":"h"},{"x":10,"y":0.56,"s":"h"},{"x":15,"y":0.5,"s":"h"},{"x":20,"y":0.45,"s":"h"},{"x":30,"y":0.38,"s":"h"},{"x":40,"y":0.33,"s":"h"},{"x":50,"y":0.27,"s":"h"},{"x":60,"y":0.21,"s":"h"},{"x":70,"y":0.15,"s":"h"},{"x":80,"y":0.1,"s":"h"},{"x":90,"y":0.05,"s":"h"},{"x":100,"y":0,"s":"h"}],
"grid":[{"lon":120,"lat":21.765,"g":"a"},{"lon":120,"lat":25.74,"g":"a"},{"lon":121,"lat":21.765,"g":"b"},{"lon":121,"lat":25.74,"g":"b"},{"lon":122,"lat":22.699,"g":"c"},{"lon":122,"lat":25.74,"g":"c"},{"lon":119.189,"lat":25,"g":"d"},{"lon":122.307,"lat":25,"g":"d"},{"lon":119.189,"lat":24,"g":"e"},{"lon":122.307,"lat":24,"g":"e"},{"lon":119.189,"lat":23,"g":"f"},{"lon":122.307,"lat":23,"g":"f"},{"lon":119.189,"lat":22,"g":"h"},{"lon":121.168,"lat":22,"g":"h"}],
"lead":[{"lon":121.695,"lat":24.572,"g":"n"},{"lon":121.695,"lat":26.026,"g":"n"},{"lon":118.89,"lat":26.026,"g":"n"},{"lon":118.89,"lat":21.962,"g":"n"},{"lon":116.139,"lat":21.962,"g":"n"},{"lon":120.237,"lat":23.264,"g":"s"},{"lon":120.237,"lat":21.632,"g":"s"},{"lon":117.312,"lat":21.632,"g":"s"},{"lon":117.312,"lat":17.923,"g":"s"}],
"map":[{"lon":121.521,"lat":25.273,"g":"tw"},{"lon":121.617,"lat":25.237,"g":"tw"},{"lon":121.645,"lat":25.19,"g":"tw"},{"lon":121.736,"lat":25.164,"g":"tw"},{"lon":121.796,"lat":25.118,"g":"tw"},{"lon":121.88,"lat":25.092,"g":"tw"},{"lon":121.927,"lat":25.022,"g":"tw"},{"lon":121.975,"lat":24.983,"g":"tw"},{"lon":121.856,"lat":24.814,"g":"tw"},{"lon":121.868,"lat":24.697,"g":"tw"},{"lon":121.923,"lat":24.542,"g":"tw"},{"lon":121.88,"lat":24.438,"g":"tw"},{"lon":121.82,"lat":24.295,"g":"tw"},{"lon":121.755,"lat":24.282,"g":"tw"},{"lon":121.7,"lat":24.178,"g":"tw"},{"lon":121.605,"lat":24.049,"g":"tw"},{"lon":121.605,"lat":23.945,"g":"tw"},{"lon":121.569,"lat":23.789,"g":"tw"},{"lon":121.533,"lat":23.607,"g":"tw"},{"lon":121.485,"lat":23.465,"g":"tw"},{"lon":121.461,"lat":23.322,"g":"tw"},{"lon":121.378,"lat":23.166,"g":"tw"},{"lon":121.354,"lat":23.063,"g":"tw"},{"lon":121.258,"lat":22.933,"g":"tw"},{"lon":121.187,"lat":22.829,"g":"tw"},{"lon":121.067,"lat":22.712,"g":"tw"},{"lon":120.984,"lat":22.608,"g":"tw"},{"lon":120.912,"lat":22.466,"g":"tw"},{"lon":120.871,"lat":22.31,"g":"tw"},{"lon":120.871,"lat":22.076,"g":"tw"},{"lon":120.824,"lat":21.908,"g":"tw"},{"lon":120.757,"lat":21.947,"g":"tw"},{"lon":120.685,"lat":21.934,"g":"tw"},{"lon":120.661,"lat":22.128,"g":"tw"},{"lon":120.637,"lat":22.284,"g":"tw"},{"lon":120.518,"lat":22.401,"g":"tw"},{"lon":120.375,"lat":22.479,"g":"tw"},{"lon":120.231,"lat":22.595,"g":"tw"},{"lon":120.219,"lat":22.725,"g":"tw"},{"lon":120.159,"lat":22.829,"g":"tw"},{"lon":120.14,"lat":22.946,"g":"tw"},{"lon":120.076,"lat":23.024,"g":"tw"},{"lon":119.987,"lat":23.094,"g":"tw"},{"lon":120.004,"lat":23.244,"g":"tw"},{"lon":120.04,"lat":23.374,"g":"tw"},{"lon":120.064,"lat":23.53,"g":"tw"},{"lon":120.1,"lat":23.556,"g":"tw"},{"lon":120.1,"lat":23.659,"g":"tw"},{"lon":120.159,"lat":23.802,"g":"tw"},{"lon":120.255,"lat":23.906,"g":"tw"},{"lon":120.315,"lat":24.01,"g":"tw"},{"lon":120.446,"lat":24.126,"g":"tw"},{"lon":120.494,"lat":24.23,"g":"tw"},{"lon":120.613,"lat":24.303,"g":"tw"},{"lon":120.554,"lat":24.334,"g":"tw"},{"lon":120.57,"lat":24.399,"g":"tw"},{"lon":120.661,"lat":24.542,"g":"tw"},{"lon":120.745,"lat":24.607,"g":"tw"},{"lon":120.828,"lat":24.684,"g":"tw"},{"lon":120.912,"lat":24.814,"g":"tw"},{"lon":120.948,"lat":24.931,"g":"tw"},{"lon":121.02,"lat":25.022,"g":"tw"},{"lon":121.211,"lat":25.1,"g":"tw"},{"lon":121.402,"lat":25.144,"g":"tw"},{"lon":121.414,"lat":25.211,"g":"tw"},{"lon":121.521,"lat":25.273,"g":"tw"},
{"lon":121.963,"lat":24.97,"g":"lw"},{"lon":121.856,"lat":24.918,"g":"lw"},{"lon":121.736,"lat":24.832,"g":"lw"},{"lon":121.593,"lat":24.801,"g":"lw"},{"lon":121.438,"lat":24.645,"g":"lw"},{"lon":121.342,"lat":24.516,"g":"lw"},{"lon":121.294,"lat":24.42,"g":"lw"},{"lon":121.366,"lat":24.365,"g":"lw"},{"lon":121.497,"lat":24.329,"g":"lw"},{"lon":121.593,"lat":24.282,"g":"lw"},{"lon":121.677,"lat":24.308,"g":"lw"},{"lon":121.736,"lat":24.516,"g":"lw"},
{"lon":120.9,"lat":23.491,"g":"bw"},{"lon":120.943,"lat":23.452,"g":"bw"},{"lon":120.828,"lat":23.361,"g":"bw"},{"lon":120.685,"lat":23.309,"g":"bw"},{"lon":120.609,"lat":23.257,"g":"bw"},{"lon":120.618,"lat":23.166,"g":"bw"},{"lon":120.542,"lat":23.063,"g":"bw"},{"lon":120.41,"lat":22.92,"g":"bw"},{"lon":120.231,"lat":22.902,"g":"bw"},{"lon":120.148,"lat":22.946,"g":"bw"},{"lon":120.327,"lat":22.985,"g":"bw"},{"lon":120.542,"lat":23.27,"g":"bw"},
{"lon":122.011,"lat":24.97,"g":"lr"},{"lon":121.88,"lat":24.853,"g":"lr"},{"lon":121.844,"lat":24.801,"g":"lr"},{"lon":121.868,"lat":24.697,"g":"lr"},{"lon":121.923,"lat":24.542,"g":"lr"},{"lon":121.88,"lat":24.438,"g":"lr"},{"lon":121.82,"lat":24.295,"g":"lr"},{"lon":121.677,"lat":24.329,"g":"lr"},{"lon":121.617,"lat":24.295,"g":"lr"},{"lon":121.497,"lat":24.347,"g":"lr"},{"lon":121.366,"lat":24.373,"g":"lr"},{"lon":121.366,"lat":24.451,"g":"lr"},{"lon":121.461,"lat":24.594,"g":"lr"},{"lon":121.593,"lat":24.788,"g":"lr"},{"lon":121.736,"lat":24.84,"g":"lr"},{"lon":121.856,"lat":24.931,"g":"lr"},{"lon":121.951,"lat":24.988,"g":"lr"},
{"lon":120.219,"lat":23.62,"g":"br"},{"lon":120.446,"lat":23.594,"g":"br"},{"lon":120.566,"lat":23.569,"g":"br"},{"lon":120.661,"lat":23.607,"g":"br"},{"lon":120.757,"lat":23.582,"g":"br"},{"lon":120.769,"lat":23.504,"g":"br"},{"lon":120.9,"lat":23.491,"g":"br"},{"lon":120.781,"lat":23.387,"g":"br"},{"lon":120.578,"lat":23.283,"g":"br"},{"lon":120.566,"lat":23.192,"g":"br"},{"lon":120.518,"lat":23.088,"g":"br"},{"lon":120.398,"lat":22.985,"g":"br"},{"lon":120.327,"lat":22.938,"g":"br"},{"lon":120.231,"lat":22.938,"g":"br"},{"lon":120.136,"lat":22.959,"g":"br"},{"lon":120.064,"lat":23.037,"g":"br"},{"lon":119.987,"lat":23.094,"g":"br"},{"lon":120.004,"lat":23.244,"g":"br"},{"lon":120.035,"lat":23.374,"g":"br"},{"lon":120.064,"lat":23.543,"g":"br"},{"lon":120.183,"lat":23.53,"g":"br"},
{"lon":120.769,"lat":23.504,"g":"sq"},{"lon":120.816,"lat":23.504,"g":"sq"},{"lon":120.816,"lat":23.543,"g":"sq"},{"lon":120.769,"lat":23.543,"g":"sq"},
{"lon":119.443,"lat":23.62,"g":"i1"},{"lon":119.491,"lat":23.633,"g":"i1"},{"lon":119.491,"lat":23.556,"g":"i1"},{"lon":119.443,"lat":23.543,"g":"i1"},{"lon":119.443,"lat":23.62,"g":"i1"},
{"lon":119.514,"lat":23.556,"g":"i2"},{"lon":119.586,"lat":23.594,"g":"i2"},{"lon":119.67,"lat":23.556,"g":"i2"},{"lon":119.598,"lat":23.53,"g":"i2"},{"lon":119.514,"lat":23.498,"g":"i2"},{"lon":119.514,"lat":23.556,"g":"i2"},
{"lon":119.431,"lat":23.387,"g":"i3"},{"lon":119.491,"lat":23.361,"g":"i3"},{"lon":119.455,"lat":23.322,"g":"i3"},{"lon":119.431,"lat":23.387,"g":"i3"},
{"lon":119.376,"lat":23.192,"g":"i4"},{"lon":119.431,"lat":23.21,"g":"i4"},{"lon":119.419,"lat":23.172,"g":"i4"},{"lon":119.376,"lat":23.192,"g":"i4"},
{"lon":121.175,"lat":22.691,"g":"c1"},{"lon":121.708,"lat":22.686,"g":"c1"},{"lon":121.641,"lat":22.569,"g":"c1"},{"lon":121.569,"lat":22.466,"g":"c1"},{"lon":121.497,"lat":22.362,"g":"c1"},{"lon":121.378,"lat":22.284,"g":"c1"},{"lon":121.258,"lat":22.258,"g":"c1"},{"lon":121.199,"lat":22.219,"g":"c1"},{"lon":121.175,"lat":22.232,"g":"c1"},
{"lon":122.011,"lat":22.523,"g":"c2"},{"lon":122.142,"lat":22.518,"g":"c2"},{"lon":122.147,"lat":22.414,"g":"c2"},{"lon":122.107,"lat":22.258,"g":"c2"},{"lon":122.035,"lat":22.063,"g":"c2"},{"lon":121.951,"lat":22.128,"g":"c2"},{"lon":121.892,"lat":22.219,"g":"c2"},{"lon":121.915,"lat":22.349,"g":"c2"},{"lon":121.951,"lat":22.466,"g":"c2"}]
},
"layer":[
{"encoding":{"x":{"field":"lon","type":"quantitative","scale":{"domain":[119.189,122.307],"range":[492,984],"nice":false,"zero":false},"axis":null},"y":{"field":"lat","type":"quantitative","scale":{"domain":[21.765,25.74],"range":[977,351],"nice":false,"zero":false},"axis":null}},"layer":[
{"data":{"values":[{"lon":119.189,"lat":21.765,"a":122.307,"b":25.74}]},"mark":{"type":"rect","fill":"white","stroke":"#222","strokeWidth":1.4},"encoding":{"x2":{"field":"a"},"y2":{"field":"b"}}},
{"data":{"name":"grid"},"mark":{"type":"line","color":"#222","strokeWidth":1.2},"encoding":{"detail":{"field":"g"},"order":{"value":null}}},
{"data":{"values":[{"lon":121.168,"lat":21.765,"a":122.307,"b":22.699}]},"mark":{"type":"rect","fill":"white","stroke":"#222","strokeWidth":1.4},"encoding":{"x2":{"field":"a"},"y2":{"field":"b"}}},
{"data":{"name":"map"},"transform":[{"filter":{"field":"g","oneOf":["c1","c2"]}}],"mark":{"type":"line","fill":"#86a98a","stroke":"#86a98a","strokeWidth":1},"encoding":{"detail":{"field":"g"},"order":{"value":null}}},
{"data":{"name":"map"},"transform":[{"filter":{"field":"g","oneOf":["tw"]}}],"mark":{"type":"line","fill":"#7fa9d9","stroke":"#1d3354","strokeWidth":1.6},"encoding":{"detail":{"field":"g"},"order":{"value":null}}},
{"data":{"name":"map"},"transform":[{"filter":{"field":"g","oneOf":["lw","bw"]}}],"mark":{"type":"line","fill":"white","stroke":"white","strokeWidth":1},"encoding":{"detail":{"field":"g"},"order":{"value":null}}},
{"data":{"name":"map"},"transform":[{"filter":{"field":"g","oneOf":["lr","br"]}}],"mark":{"type":"line","fill":"#c8444e","stroke":"#8e2f38","strokeWidth":0.8},"encoding":{"detail":{"field":"g"},"order":{"value":null}}},
{"data":{"name":"map"},"transform":[{"filter":{"field":"g","oneOf":["sq"]}}],"mark":{"type":"line","fill":"white","stroke":"white","strokeWidth":0.5},"encoding":{"detail":{"field":"g"},"order":{"value":null}}},
{"data":{"name":"map"},"transform":[{"filter":{"field":"g","oneOf":["i1","i2","i3","i4"]}}],"mark":{"type":"line","fill":"#ddd","stroke":"#222","strokeWidth":1.4},"encoding":{"detail":{"field":"g"},"order":{"value":null}}},
{"data":{"values":[{"lon":119.546,"lat":23.729},{"lon":119.534,"lat":23.659},{"lon":119.479,"lat":23.244},{"lon":119.586,"lat":23.244},{"lon":119.653,"lat":23.244},{"lon":122.035,"lat":25.593},{"lon":121.923,"lat":25.424},{"lon":122.054,"lat":25.463}]},"mark":{"type":"point","filled":true,"size":6,"color":"#222","opacity":1}},
{"data":{"values":[{"lon":119.825,"lat":25.65,"t":"120°E"},{"lon":121.832,"lat":25.652,"t":"22°E"},{"lon":119.364,"lat":25.092,"t":"22°N"},{"lon":119.366,"lat":22.082,"t":"22°N"},{"lon":119.581,"lat":22.889,"t":"BFD-endemic"},{"lon":119.562,"lat":22.746,"t":"area"},{"lon":121.359,"lat":22.499,"t":"China"},{"lon":121.992,"lat":22.297,"t":"Taiwan"}]},"mark":{"type":"text"},"encoding":{"text":{"field":"t"}}},
{"data":{"values":[{"lon":122.381,"lat":24.666,"t":"Lanyang Plain"}]},"mark":{"type":"text","fontSize":23.5},"encoding":{"text":{"field":"t"}}},
{"data":{"name":"lead"},"mark":{"type":"line","color":"#111","strokeWidth":3.6,"strokeJoin":"miter"},"encoding":{"detail":{"field":"g"},"order":{"value":null}}}
]},
{"data":{"name":"A"},"encoding":{"x":{"field":"x","type":"quantitative","scale":{"domain":[0,100],"range":[118,443],"nice":false},"axis":{"orient":"bottom","offset":-1347,"values":[0,20,40,60,80,100],"title":"Prevalence (%)","titleX":270,"titleY":37,"labelPadding":10}},"y":{"field":"y","type":"quantitative","scale":{"domain":[0,1],"range":[243,32],"nice":false},"axis":{"orient":"left","offset":-118,"values":[0,0.2,0.4,0.6,0.8,1],"format":"~g","title":"Exceedence risk  (%)","titleX":-53,"titleY":143,"labelPadding":16}}},"layer":[
{"data":{"values":[{"x":0,"y":0,"a":100,"b":1}]},"mark":{"type":"rect","fillOpacity":0,"stroke":"#111","strokeWidth":1.5},"encoding":{"x2":{"field":"a"},"y2":{"field":"b"}}},
{"transform":[{"filter":"datum.s=='t'||datum.s=='u'"}],"mark":{"type":"line","color":"#000","strokeWidth":8,"strokeCap":"round"},"encoding":{"detail":{"field":"s"},"order":{"value":null}}},
{"transform":[{"filter":"datum.s=='l'||datum.s=='m'||datum.s=='h'"}],"mark":{"type":"line","color":"#111","strokeWidth":1.9},"encoding":{"detail":{"field":"s"},"order":{"value":null}}},
{"transform":[{"filter":"(datum.s=='l'||datum.s=='h')&&!datum.n"}],"mark":{"type":"point","filled":false,"size":62,"strokeWidth":2.2,"color":"#111","opacity":1}},
{"transform":[{"filter":"datum.s=='m'&&!datum.n"}],"mark":{"type":"point","filled":true,"size":105,"color":"#000","opacity":1}},
{"data":{"values":[{"x":-26.5,"y":1.047,"t":"A"}]},"mark":{"type":"text","fontSize":25},"encoding":{"text":{"field":"t"}}},
{"data":{"values":[{"x":15,"y":0.09,"t":"Keratosis"}]},"mark":{"type":"text"},"encoding":{"text":{"field":"t"}}}]},
{"data":{"name":"B"},"encoding":{"x":{"field":"x","type":"quantitative","scale":{"domain":[0,20],"range":[544,875],"nice":false},"axis":{"orient":"bottom","offset":-1348,"values":[0,4,8,12,16,20],"title":"Prevalence (%)","titleX":702,"titleY":35,"labelPadding":9}},"y":{"field":"y","type":"quantitative","scale":{"domain":[0,1],"range":[242,33],"nice":false},"axis":{"orient":"left","offset":-544,"values":[0,0.2,0.4,0.6,0.8,1],"format":"~g","title":"Exceedence risk (%)","titleX":-52,"titleY":146,"labelPadding":12}}},"layer":[
{"data":{"values":[{"x":0,"y":0,"a":20,"b":1}]},"mark":{"type":"rect","fillOpacity":0,"stroke":"#111","strokeWidth":1.5},"encoding":{"x2":{"field":"a"},"y2":{"field":"b"}}},
{"transform":[{"filter":"datum.s=='t'||datum.s=='u'"}],"mark":{"type":"line","color":"#000","strokeWidth":8,"strokeCap":"round"},"encoding":{"detail":{"field":"s"},"order":{"value":null}}},
{"transform":[{"filter":"datum.s=='l'||datum.s=='m'||datum.s=='h'"}],"mark":{"type":"line","color":"#111","strokeWidth":1.9},"encoding":{"detail":{"field":"s"},"order":{"value":null}}},
{"transform":[{"filter":"(datum.s=='l'||datum.s=='h')&&!datum.n"}],"mark":{"type":"point","filled":false,"size":62,"strokeWidth":2.2,"color":"#111","opacity":1}},
{"transform":[{"filter":"datum.s=='m'&&!datum.n"}],"mark":{"type":"point","filled":true,"size":105,"color":"#000","opacity":1}},
{"data":{"values":[{"x":-3.02,"y":1.086,"t":"B"}]},"mark":{"type":"text","fontSize":25},"encoding":{"text":{"field":"t"}}},
{"data":{"values":[{"x":15.46,"y":0.091,"t":"Skin cancer"}]},"mark":{"type":"text"},"encoding":{"text":{"field":"t"}}},
{"data":{"values":[{"x":9.42,"y":0.24,"t":"Children"}]},"mark":{"type":"text","color":"#4f8e89"},"encoding":{"text":{"field":"t"}}}]},
{"data":{"name":"C"},"encoding":{"x":{"field":"x","type":"quantitative","scale":{"domain":[0,0.00045],"range":[84,388],"nice":false},"axis":{"orient":"bottom","offset":-1043,"values":[0,0.00015,0.0003,0.00045],"labelExpr":"replace(replace(format(datum.value,'.1e'),'e-','E-0'),'e+','E+0')","title":"Incidence  (%)","titleX":233,"titleY":52,"labelPadding":18}},"y":{"field":"y","type":"quantitative","scale":{"domain":[0,1],"range":[547,341],"nice":false},"axis":{"orient":"left","offset":-84,"values":[0,0.2,0.4,0.6,0.8,1],"format":"~g","title":"Exceedence risk  (%)","titleX":-56,"titleY":451,"labelPadding":16}}},"layer":[
{"data":{"values":[{"x":0,"y":0,"a":0.00045,"b":1}]},"mark":{"type":"rect","fillOpacity":0,"stroke":"#111","strokeWidth":1.5},"encoding":{"x2":{"field":"a"},"y2":{"field":"b"}}},
{"transform":[{"filter":"datum.s=='l'||datum.s=='m'||datum.s=='h'"}],"mark":{"type":"line","color":"#111","strokeWidth":1.9},"encoding":{"detail":{"field":"s"},"order":{"value":null}}},
{"transform":[{"filter":"(datum.s=='l'||datum.s=='h')&&!datum.n"}],"mark":{"type":"point","filled":false,"size":62,"strokeWidth":2.2,"color":"#111","opacity":1}},
{"transform":[{"filter":"datum.s=='m'&&!datum.n"}],"mark":{"type":"point","filled":true,"size":105,"color":"#000","opacity":1}},
{"data":{"values":[{"x":-0.0000844,"y":1.063,"t":"C"}]},"mark":{"type":"text","fontSize":25},"encoding":{"text":{"field":"t"}}},
{"data":{"values":[{"x":0.000339,"y":0.117,"t":"Lung cancer"}]},"mark":{"type":"text"},"encoding":{"text":{"field":"t"}}},
{"data":{"values":[{"x":0.000164,"y":0.209,"t":"Adolescents"}]},"mark":{"type":"text","color":"#4f8e89","fontSize":14.5},"encoding":{"text":{"field":"t"}}}]},
{"data":{"name":"D"},"encoding":{"x":{"field":"x","type":"quantitative","scale":{"domain":[0,0.0003],"range":[82,389],"nice":false},"axis":{"orient":"bottom","offset":-723,"values":[0,0.0001,0.0002,0.0003],"labelExpr":"replace(replace(format(datum.value,'.1e'),'e-','E-0'),'e+','E+0')","title":"Incidence  (%)","titleX":233,"titleY":49,"labelPadding":17}},"y":{"field":"y","type":"quantitative","scale":{"domain":[0,1],"range":[867,657],"nice":false},"axis":{"orient":"left","offset":-82,"values":[0,0.2,0.4,0.6,0.8,1],"format":"~g","title":"Exceedence risk  (%)","titleX":-54,"titleY":767,"labelPadding":16}}},"layer":[
{"data":{"values":[{"x":0,"y":0,"a":0.0003,"b":1}]},"mark":{"type":"rect","fillOpacity":0,"stroke":"#111","strokeWidth":1.5},"encoding":{"x2":{"field":"a"},"y2":{"field":"b"}}},
{"transform":[{"filter":"datum.s=='l'||datum.s=='m'||datum.s=='h'"}],"mark":{"type":"line","color":"#111","strokeWidth":1.9},"encoding":{"detail":{"field":"s"},"order":{"value":null}}},
{"transform":[{"filter":"(datum.s=='l'||datum.s=='h')&&!datum.n"}],"mark":{"type":"point","filled":false,"size":62,"strokeWidth":2.2,"color":"#111","opacity":1}},
{"transform":[{"filter":"datum.s=='m'&&!datum.n"}],"mark":{"type":"point","filled":true,"size":105,"color":"#000","opacity":1}},
{"data":{"values":[{"x":-0.0000479,"y":1.062,"t":"D"}]},"mark":{"type":"text","fontSize":25},"encoding":{"text":{"field":"t"}}},
{"data":{"values":[{"x":0.000208,"y":0.124,"t":"Bladder cancer"}]},"mark":{"type":"text","fontSize":19},"encoding":{"text":{"field":"t"}}},
{"data":{"values":[{"x":0.000118,"y":0.224,"t":"Adolescents"}]},"mark":{"type":"text","color":"#4f8e89","fontSize":18.5},"encoding":{"text":{"field":"t"}}}]},
{"data":{"name":"E"},"encoding":{"x":{"field":"x","type":"quantitative","scale":{"domain":[0,100],"range":[285,609],"nice":false},"axis":{"orient":"bottom","offset":-350,"values":[0,20,40,60,80,100],"title":"Prevalence  (%)","titleX":448,"titleY":52,"labelPadding":18}},"y":{"field":"y","type":"quantitative","scale":{"domain":[0,1],"range":[1240,1033],"nice":false},"axis":{"orient":"left","offset":-285,"values":[0,0.2,0.4,0.6,0.8,1],"format":"~g","title":"Exceedence risk  (%)","titleX":-53,"titleY":1141,"labelPadding":18}}},"layer":[
{"data":{"values":[{"x":0,"y":0,"a":100,"b":1}]},"mark":{"type":"rect","fillOpacity":0,"stroke":"#111","strokeWidth":1.5},"encoding":{"x2":{"field":"a"},"y2":{"field":"b"}}},
{"transform":[{"filter":"datum.s=='t'||datum.s=='u'"}],"mark":{"type":"line","color":"#000","strokeWidth":8,"strokeCap":"round"},"encoding":{"detail":{"field":"s"},"order":{"value":null}}},
{"transform":[{"filter":"datum.s=='l'||datum.s=='m'||datum.s=='h'"}],"mark":{"type":"line","color":"#111","strokeWidth":1.9},"encoding":{"detail":{"field":"s"},"order":{"value":null}}},
{"transform":[{"filter":"(datum.s=='l'||datum.s=='h')&&!datum.n"}],"mark":{"type":"point","filled":false,"size":62,"strokeWidth":2.2,"color":"#111","opacity":1}},
{"transform":[{"filter":"datum.s=='m'&&!datum.n"}],"mark":{"type":"point","filled":true,"size":105,"color":"#000","opacity":1}},
{"data":{"values":[{"x":-16.4,"y":1.053,"t":"E"}]},"mark":{"type":"text","fontSize":25},"encoding":{"text":{"field":"t"}}},
{"data":{"values":[{"x":79.6,"y":0.097,"t":"Keratosis"}]},"mark":{"type":"text"},"encoding":{"text":{"field":"t"}}}]},
{"data":{"name":"F"},"encoding":{"x":{"field":"x","type":"quantitative","scale":{"domain":[0,5],"range":[698,1032],"nice":false},"axis":{"orient":"bottom","offset":-348,"values":[0,1,2,3,4,5],"title":"Prevalence (%)","titleX":857,"titleY":47,"labelPadding":17}},"y":{"field":"y","type":"quantitative","scale":{"domain":[0,1],"range":[1242,1032],"nice":false},"axis":{"orient":"left","offset":-698,"values":[0,0.2,0.4,0.6,0.8,1],"format":"~g","title":"Exceedence risk (%)","titleX":-53,"titleY":1145,"labelPadding":17}}},"layer":[
{"data":{"values":[{"x":0,"y":0,"a":5,"b":1}]},"mark":{"type":"rect","fillOpacity":0,"stroke":"#111","strokeWidth":1.5},"encoding":{"x2":{"field":"a"},"y2":{"field":"b"}}},
{"transform":[{"filter":"datum.s=='t'||datum.s=='u'"}],"mark":{"type":"line","color":"#000","strokeWidth":8,"strokeCap":"round"},"encoding":{"detail":{"field":"s"},"order":{"value":null}}},
{"transform":[{"filter":"datum.s=='l'||datum.s=='m'||datum.s=='h'"}],"mark":{"type":"line","color":"#111","strokeWidth":1.9},"encoding":{"detail":{"field":"s"},"order":{"value":null}}},
{"transform":[{"filter":"(datum.s=='l'||datum.s=='h')&&!datum.n"}],"mark":{"type":"point","filled":false,"size":62,"strokeWidth":2.2,"color":"#111","opacity":1}},
{"transform":[{"filter":"datum.s=='m'&&!datum.n"}],"mark":{"type":"point","filled":true,"size":105,"color":"#000","opacity":1}},
{"data":{"values":[{"x":-0.808,"y":1.062,"t":"F"}]},"mark":{"type":"text","fontSize":25},"encoding":{"text":{"field":"t"}}},
{"data":{"values":[{"x":3.82,"y":0.081,"t":"Skin cancer"}]},"mark":{"type":"text"},"encoding":{"text":{"field":"t"}}},
{"data":{"values":[{"x":2.605,"y":0.233,"t":"Children"}]},"mark":{"type":"text","color":"#4f8e89"},"encoding":{"text":{"field":"t"}}}]},
{"data":{"name":"G"},"encoding":{"x":{"field":"x","type":"quantitative","scale":{"domain":[0,0.00001],"range":[290,596],"nice":false},"axis":{"orient":"bottom","offset":-64,"values":[0,0.0000025,0.000005,0.0000075,0.00001],"labelExpr":"replace(replace(format(datum.value,'.1e'),'e-','E-0'),'e+','E+0')","title":"Incidence (%)","titleX":436,"titleY":51,"labelPadding":18}},"y":{"field":"y","type":"quantitative","scale":{"domain":[0,1],"range":[1526,1321],"nice":false},"axis":{"orient":"left","offset":-290,"values":[0,0.2,0.4,0.6,0.8,1],"format":"~g","title":"Exceedence risk  (%)","titleX":-55,"titleY":1428,"labelPadding":18}}},"layer":[
{"data":{"values":[{"x":0,"y":0,"a":0.00001,"b":1}]},"mark":{"type":"rect","fillOpacity":0,"stroke":"#111","strokeWidth":1.5},"encoding":{"x2":{"field":"a"},"y2":{"field":"b"}}},
{"transform":[{"filter":"datum.s=='l'||datum.s=='m'||datum.s=='h'"}],"mark":{"type":"line","color":"#111","strokeWidth":1.9},"encoding":{"detail":{"field":"s"},"order":{"value":null}}},
{"transform":[{"filter":"(datum.s=='l'||datum.s=='h')&&!datum.n"}],"mark":{"type":"point","filled":false,"size":62,"strokeWidth":2.2,"color":"#111","opacity":1}},
{"transform":[{"filter":"datum.s=='m'&&!datum.n"}],"mark":{"type":"point","filled":true,"size":105,"color":"#000","opacity":1}},
{"data":{"values":[{"x":-0.0000018,"y":1.098,"t":"G"}]},"mark":{"type":"text","fontSize":25},"encoding":{"text":{"field":"t"}}},
{"data":{"values":[{"x":0.00000771,"y":0.137,"t":"Lung cancer"}]},"mark":{"type":"text"},"encoding":{"text":{"field":"t"}}},
{"data":{"values":[{"x":0.00000611,"y":0.234,"t":"Adolescents"}]},"mark":{"type":"text","color":"#4f8e89","fontSize":18.5},"encoding":{"text":{"field":"t"}}}]},
{"data":{"name":"H"},"encoding":{"x":{"field":"x","type":"quantitative","scale":{"domain":[0,0.000006],"range":[698,1005],"nice":false},"axis":{"orient":"bottom","offset":-59,"values":[0,0.000002,0.000004,0.000006],"labelExpr":"replace(replace(format(datum.value,'.1e'),'e-','E-0'),'e+','E+0')","title":"Incidence (%)","titleX":845,"titleY":47,"labelPadding":19}},"y":{"field":"y","type":"quantitative","scale":{"domain":[0,1],"range":[1531,1322],"nice":false},"axis":{"orient":"left","offset":-698,"values":[0,0.2,0.4,0.6,0.8,1],"format":"~g","title":"Exceedence risk  (%)","titleX":-55,"titleY":1431,"labelPadding":13}}},"layer":[
{"data":{"values":[{"x":0,"y":0,"a":0.000006,"b":1}]},"mark":{"type":"rect","fillOpacity":0,"stroke":"#111","strokeWidth":1.5},"encoding":{"x2":{"field":"a"},"y2":{"field":"b"}}},
{"transform":[{"filter":"datum.s=='l'||datum.s=='m'||datum.s=='h'"}],"mark":{"type":"line","color":"#111","strokeWidth":1.9},"encoding":{"detail":{"field":"s"},"order":{"value":null}}},
{"transform":[{"filter":"(datum.s=='l'||datum.s=='h')&&!datum.n"}],"mark":{"type":"point","filled":false,"size":62,"strokeWidth":2.2,"color":"#111","opacity":1}},
{"transform":[{"filter":"datum.s=='m'&&!datum.n"}],"mark":{"type":"point","filled":true,"size":105,"color":"#000","opacity":1}},
{"data":{"values":[{"x":-0.00000104,"y":1.115,"t":"H"}]},"mark":{"type":"text","fontSize":25},"encoding":{"text":{"field":"t"}}},
{"data":{"values":[{"x":0.0000043,"y":0.1,"t":"Bladder cancer"}]},"mark":{"type":"text","fontSize":19},"encoding":{"text":{"field":"t"}}},
{"data":{"values":[{"x":0.00000309,"y":0.187,"t":"Adolescents"}]},"mark":{"type":"text","color":"#4f8e89","fontSize":18.5},"encoding":{"text":{"field":"t"}}}]},
{"data":{"name":"ia"},"encoding":{"x":{"field":"x","type":"quantitative","scale":{"domain":[0,100],"range":[300,430],"nice":false},"axis":{"orient":"bottom","offset":-1470,"values":[0,20,40,60,80,100],"title":null,"labelFontSize":14,"labelPadding":18}},"y":{"field":"y","type":"quantitative","scale":{"domain":[0,1],"range":[120,42],"nice":false},"axis":{"orient":"left","offset":-300,"values":[0,0.2,0.4,0.6,0.8,1],"format":"~g","title":null,"labelFontSize":14,"labelPadding":12}}},"layer":[
{"data":{"values":[{"x":0,"y":0,"a":100,"b":1}]},"mark":{"type":"rect","fillOpacity":0,"stroke":"#111","strokeWidth":1.7},"encoding":{"x2":{"field":"a"},"y2":{"field":"b"}}},
{"mark":{"type":"line","color":"#000","strokeWidth":3.2},"encoding":{"detail":{"field":"s"},"order":{"value":null}}},
{"data":{"values":[{"x":43,"y":0.14,"t":"Hyperpigmentation"}]},"mark":{"type":"text","fontSize":13},"encoding":{"text":{"field":"t"}}}]},
{"data":{"name":"ib1"},"encoding":{"x":{"field":"x","type":"quantitative","scale":{"domain":[0,50],"range":[605,718],"nice":false},"axis":{"orient":"bottom","offset":-1462,"values":[0,10,20,30,40,50],"title":null,"labelFontSize":14,"labelPadding":12}},"y":{"field":"y","type":"quantitative","scale":{"domain":[0,1],"range":[128,43],"nice":false},"axis":{"orient":"left","offset":-605,"values":[0,0.2,0.4,0.6,0.8,1],"format":"~g","title":null,"labelFontSize":14,"labelPadding":9}}},"layer":[
{"data":{"values":[{"x":0,"y":0,"a":50,"b":1}]},"mark":{"type":"rect","fillOpacity":0,"stroke":"#111","strokeWidth":1.7},"encoding":{"x2":{"field":"a"},"y2":{"field":"b"}}},
{"mark":{"type":"line","color":"#000","strokeWidth":4.5},"encoding":{"detail":{"field":"s"},"order":{"value":null}}},
{"data":{"values":[{"x":23,"y":0.54,"t":"Adolescents"}]},"mark":{"type":"text","color":"#4f8e89","fontSize":14.5},"encoding":{"text":{"field":"t"}}}]},
{"data":{"name":"ib2"},"encoding":{"x":{"field":"x","type":"quantitative","scale":{"domain":[0,100],"range":[754,866],"nice":false},"axis":{"orient":"bottom","offset":-1459,"values":[0,20,40,60,80,100],"title":null,"labelFontSize":14,"labelPadding":12}},"y":{"field":"y","type":"quantitative","scale":{"domain":[0,1],"range":[131,43],"nice":false},"axis":{"orient":"left","offset":-754,"values":[0,0.2,0.4,0.6,0.8,1],"format":"~g","title":null,"labelFontSize":14,"labelPadding":9}}},"layer":[
{"data":{"values":[{"x":0,"y":0,"a":100,"b":1}]},"mark":{"type":"rect","fillOpacity":0,"stroke":"#111","strokeWidth":1.7},"encoding":{"x2":{"field":"a"},"y2":{"field":"b"}}},
{"mark":{"type":"line","color":"#000","strokeWidth":4.5},"encoding":{"detail":{"field":"s"},"order":{"value":null}}},
{"data":{"values":[{"x":42,"y":0.5,"t":"Adults"}]},"mark":{"type":"text","color":"#4f8e89","fontSize":14.5},"encoding":{"text":{"field":"t"}}}]},
{"data":{"name":"ic"},"encoding":{"x":{"field":"x","type":"quantitative","scale":{"domain":[0,100],"range":[198,373],"nice":false},"axis":{"orient":"bottom","offset":-1127.5,"values":[0,20,40,60,80,100],"title":null,"labelFontSize":14,"labelPadding":21}},"y":{"field":"y","type":"quantitative","scale":{"domain":[0,1],"range":[462.5,351],"nice":false},"axis":{"orient":"left","offset":-198,"values":[0,0.2,0.4,0.6,0.8,1],"format":"~g","title":null,"labelFontSize":14,"labelPadding":10}}},"layer":[
{"data":{"values":[{"x":0,"y":0,"a":100,"b":1}]},"mark":{"type":"rect","fillOpacity":0,"stroke":"#111","strokeWidth":1.7},"encoding":{"x2":{"field":"a"},"y2":{"field":"b"}}},
{"mark":{"type":"line","color":"#000","strokeWidth":3.2},"encoding":{"detail":{"field":"s"},"order":{"value":null}}},
{"data":{"values":[{"x":62.3,"y":0.668,"t":"Adults"}]},"mark":{"type":"text","color":"#4f8e89"},"encoding":{"text":{"field":"t"}}}]},
{"data":{"name":"id"},"encoding":{"x":{"field":"x","type":"quantitative","scale":{"domain":[0,100],"range":[203,377],"nice":false},"axis":{"orient":"bottom","offset":-817,"values":[0,20,40,60,80,100],"title":null,"labelFontSize":14,"labelPadding":18}},"y":{"field":"y","type":"quantitative","scale":{"domain":[0,1],"range":[773,670],"nice":false},"axis":{"orient":"left","offset":-203,"values":[0,0.2,0.4,0.6,0.8,1],"format":"~g","title":null,"labelFontSize":14,"labelPadding":10}}},"layer":[
{"data":{"values":[{"x":0,"y":0,"a":100,"b":1}]},"mark":{"type":"rect","fillOpacity":0,"stroke":"#111","strokeWidth":1.7},"encoding":{"x2":{"field":"a"},"y2":{"field":"b"}}},
{"mark":{"type":"line","color":"#000","strokeWidth":3.2},"encoding":{"detail":{"field":"s"},"order":{"value":null}}},
{"data":{"values":[{"x":68.4,"y":0.786,"t":"Adults"}]},"mark":{"type":"text","color":"#4f8e89"},"encoding":{"text":{"field":"t"}}}]},
{"data":{"name":"ie"},"encoding":{"x":{"field":"x","type":"quantitative","scale":{"domain":[0,100],"range":[423,593],"nice":false},"axis":{"orient":"bottom","offset":-435,"values":[0,20,40,60,80,100],"title":null,"labelFontSize":14,"labelPadding":19}},"y":{"field":"y","type":"quantitative","scale":{"domain":[0,1],"range":[1155,1047],"nice":false},"axis":{"orient":"left","offset":-423,"values":[0,0.2,0.4,0.6,0.8,1],"format":"~g","title":null,"labelFontSize":14,"labelPadding":10}}},"layer":[
{"data":{"values":[{"x":0,"y":0,"a":100,"b":1}]},"mark":{"type":"rect","fillOpacity":0,"stroke":"#111","strokeWidth":1.7},"encoding":{"x2":{"field":"a"},"y2":{"field":"b"}}},
{"mark":{"type":"line","color":"#000","strokeWidth":3.2},"encoding":{"detail":{"field":"s"},"order":{"value":null}}},
{"data":{"values":[{"x":67,"y":0.907,"t":"Hyperpigmentation"}]},"mark":{"type":"text","fontSize":13.3},"encoding":{"text":{"field":"t"}}}]},
{"data":{"name":"if1"},"encoding":{"x":{"field":"x","type":"quantitative","scale":{"domain":[0,1.2],"range":[782,874],"nice":false},"axis":{"orient":"bottom","offset":-466,"values":[0,0.3,0.6,0.9,1.2],"format":"~g","title":null,"labelFontSize":14,"labelPadding":19}},"y":{"field":"y","type":"quantitative","scale":{"domain":[0,1],"range":[1124,1048],"nice":false},"axis":{"orient":"left","offset":-782,"values":[0,0.2,0.4,0.6,0.8,1],"format":"~g","title":null,"labelFontSize":14,"labelPadding":9}}},"layer":[
{"data":{"values":[{"x":0,"y":0,"a":1.2,"b":1}]},"mark":{"type":"rect","fillOpacity":0,"stroke":"#111","strokeWidth":1.7},"encoding":{"x2":{"field":"a"},"y2":{"field":"b"}}},
{"mark":{"type":"line","color":"#000","strokeWidth":3.2},"encoding":{"detail":{"field":"s"},"order":{"value":null}}},
{"data":{"values":[{"x":0.561,"y":0.842,"t":"Adolescents"}]},"mark":{"type":"text","color":"#4f8e89","fontSize":14.5},"encoding":{"text":{"field":"t"}}}]},
{"data":{"name":"if2"},"encoding":{"x":{"field":"x","type":"quantitative","scale":{"domain":[0,100],"range":[925,1016],"nice":false},"axis":{"orient":"bottom","offset":-466,"values":[0,25,50,75,100],"title":null,"labelFontSize":14,"labelPadding":19}},"y":{"field":"y","type":"quantitative","scale":{"domain":[0,1],"range":[1124,1048],"nice":false},"axis":{"orient":"left","offset":-925,"values":[0,0.2,0.4,0.6,0.8,1],"format":"~g","title":null,"labelFontSize":14,"labelPadding":9}}},"layer":[
{"data":{"values":[{"x":0,"y":0,"a":100,"b":1}]},"mark":{"type":"rect","fillOpacity":0,"stroke":"#111","strokeWidth":1.7},"encoding":{"x2":{"field":"a"},"y2":{"field":"b"}}},
{"mark":{"type":"line","color":"#000","strokeWidth":4.5},"encoding":{"detail":{"field":"s"},"order":{"value":null}}},
{"data":{"values":[{"x":65.9,"y":0.855,"t":"Adults"}]},"mark":{"type":"text","color":"#4f8e89","fontSize":14.5},"encoding":{"text":{"field":"t"}}}]},
{"data":{"name":"ig"},"encoding":{"x":{"field":"x","type":"quantitative","scale":{"domain":[0,100],"range":[403,580],"nice":false},"axis":{"orient":"bottom","offset":-155,"values":[0,20,40,60,80,100],"title":null,"labelFontSize":14,"labelPadding":18}},"y":{"field":"y","type":"quantitative","scale":{"domain":[0,1],"range":[1435,1333],"nice":false},"axis":{"orient":"left","offset":-403,"values":[0,0.2,0.4,0.6,0.8,1],"format":"~g","title":null,"labelFontSize":14,"labelPadding":10}}},"layer":[
{"data":{"values":[{"x":0,"y":0,"a":100,"b":1}]},"mark":{"type":"rect","fillOpacity":0,"stroke":"#111","strokeWidth":1.7},"encoding":{"x2":{"field":"a"},"y2":{"field":"b"}}},
{"mark":{"type":"line","color":"#000","strokeWidth":3.2},"encoding":{"detail":{"field":"s"},"order":{"value":null}}},
{"data":{"values":[{"x":63.3,"y":0.627,"t":"Adults"}]},"mark":{"type":"text","color":"#4f8e89"},"encoding":{"text":{"field":"t"}}}]},
{"data":{"name":"ih"},"encoding":{"x":{"field":"x","type":"quantitative","scale":{"domain":[0,100],"range":[794,992],"nice":false},"axis":{"orient":"bottom","offset":-144,"values":[0,20,40,60,80,100],"labelExpr":"datum.value==0?'02':datum.value==20?'0':format(datum.value,'d')","title":null,"labelFontSize":14,"labelPadding":18}},"y":{"field":"y","type":"quantitative","scale":{"domain":[0,1],"range":[1446,1332],"nice":false},"axis":{"orient":"left","offset":-794,"values":[0,0.2,0.4,0.6,0.8,1],"format":"~g","title":null,"labelFontSize":14,"labelPadding":10}}},"layer":[
{"data":{"values":[{"x":0,"y":0,"a":100,"b":1}]},"mark":{"type":"rect","fillOpacity":0,"stroke":"#111","strokeWidth":1.7},"encoding":{"x2":{"field":"a"},"y2":{"field":"b"}}},
{"mark":{"type":"line","color":"#000","strokeWidth":3.2},"encoding":{"detail":{"field":"s"},"order":{"value":null}}},
{"data":{"values":[{"x":65.2,"y":0.649,"t":"Adults"}]},"mark":{"type":"text","color":"#4f8e89"},"encoding":{"text":{"field":"t"}}}]}
],
"resolve":{"scale":{"x":"independent","y":"independent"},"axis":{"x":"independent","y":"independent"}}}
